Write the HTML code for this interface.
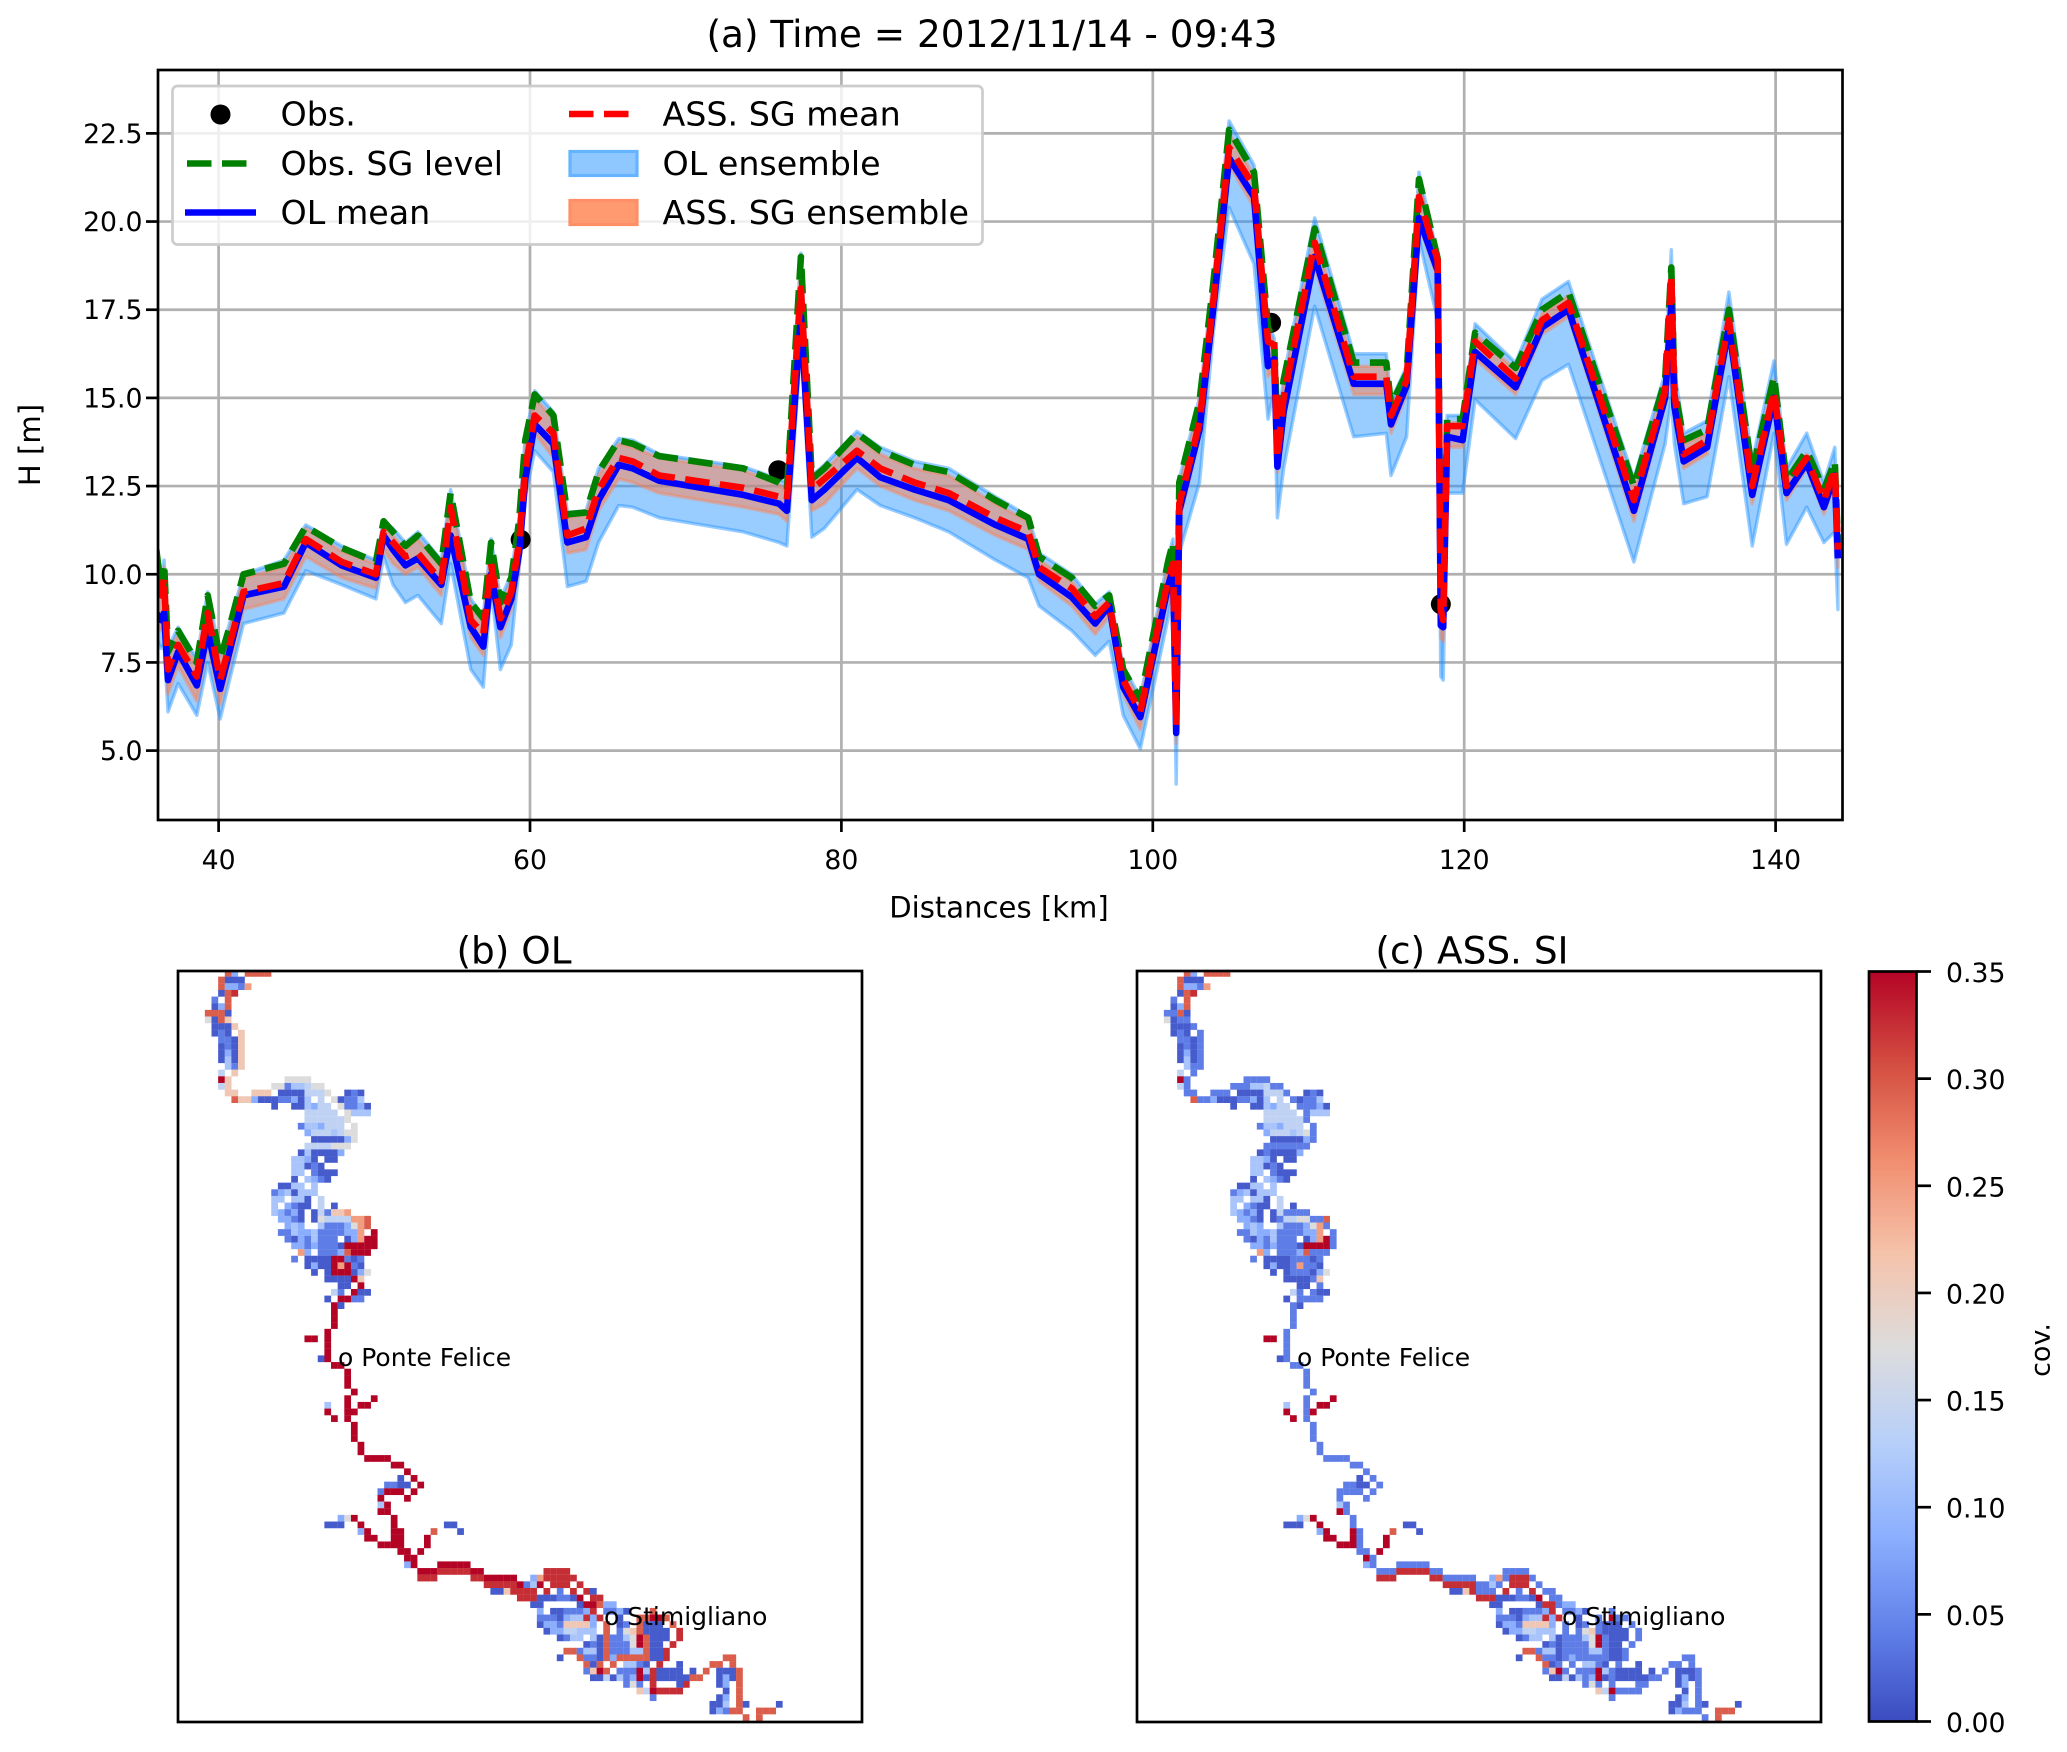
<!DOCTYPE html>
<html lang="en">
<head>
<meta charset="utf-8">
<title>Water level and covariance maps</title>
<style>
html,body{margin:0;padding:0;background:#fff;}
svg{display:block;}
text{font-family:"DejaVu Sans","Liberation Sans",sans-serif;fill:#000;}
</style>
</head>
<body>
<svg id="fig" xmlns="http://www.w3.org/2000/svg" width="2067" height="1752" viewBox="0 0 2067 1752">
  <defs>
    <clipPath id="main-clip"><rect x="158" y="70" width="1684.5" height="750"/></clipPath>
    <clipPath id="b-clip"><rect x="178" y="971" width="684" height="751"/></clipPath>
    <clipPath id="c-clip"><rect x="1137" y="971" width="684" height="751"/></clipPath>
    <linearGradient id="cbar-grad" x1="0" y1="1" x2="0" y2="0"></linearGradient>
  </defs>
  <text x="992" y="47" font-size="37.4" text-anchor="middle">(a) Time = 2012/11/14 - 09:43</text>
  <g id="main-grid"></g>
  <g id="main-series" clip-path="url(#main-clip)"></g>
  <rect x="158" y="70" width="1684.5" height="750" fill="none" stroke="#000" stroke-width="2.7"/>
  <g id="main-ticks"></g>
  <text x="999" y="917.5" font-size="29.1" text-anchor="middle">Distances [km]</text>
  <text transform="translate(40,445) rotate(-90)" font-size="29.1" text-anchor="middle">H [m]</text>

  <g>
    <rect x="172.5" y="86" width="810" height="158.5" rx="5" fill="#fff" fill-opacity="0.8" stroke="#ccc" stroke-width="2.7"/>
    <circle cx="220.5" cy="114.5" r="10" fill="#000"/>
    <text x="280.5" y="125.5" font-size="33.3">Obs.</text>
    <line x1="187" y1="163.5" x2="256" y2="163.5" stroke="#008000" stroke-width="6.6" stroke-dasharray="24.5 10.5"/>
    <text x="280.5" y="175" font-size="33.3">Obs. SG level</text>
    <line x1="185" y1="212.5" x2="256" y2="212.5" stroke="#0000ff" stroke-width="6.6"/>
    <text x="280.5" y="224" font-size="33.3">OL mean</text>
    <line x1="569" y1="114" x2="638" y2="114" stroke="#ff0000" stroke-width="6.6" stroke-dasharray="24.5 10.5"/>
    <text x="662.5" y="125.5" font-size="33.3">ASS. SG mean</text>
    <rect x="570" y="151.5" width="67" height="24" fill="#8fc8ff" stroke="#66b3ff" stroke-width="3.2"/>
    <text x="662.5" y="175" font-size="33.3">OL ensemble</text>
    <rect x="570" y="200.5" width="67" height="24" fill="#ff9a70" stroke="#ff8f66" stroke-width="3.2"/>
    <text x="662.5" y="224" font-size="33.3">ASS. SG ensemble</text>
  </g>

  <text x="514" y="963.5" font-size="37.4" text-anchor="middle">(b) OL</text>
  <text x="1472" y="963.5" font-size="37.4" text-anchor="middle">(c) ASS. SI</text>
  <g id="map-b" clip-path="url(#b-clip)"></g>
  <g id="map-c" clip-path="url(#c-clip)"></g>
  <rect x="178" y="971" width="684" height="751" fill="none" stroke="#000" stroke-width="2.7"/>
  <rect x="1137" y="971" width="684" height="751" fill="none" stroke="#000" stroke-width="2.7"/>
  <text x="338" y="1366" font-size="25">o Ponte Felice</text>
  <text x="604" y="1625" font-size="25">o Stimigliano</text>
  <text x="1297" y="1366" font-size="25">o Ponte Felice</text>
  <text x="1562" y="1625" font-size="25">o Stimigliano</text>

  <rect x="1869" y="971.5" width="47.5" height="750" fill="url(#cbar-grad)"/>
  <rect x="1869" y="971.5" width="47.5" height="750" fill="none" stroke="#000" stroke-width="2.7"/>
  <g id="cbar-ticks"></g>
  <text transform="translate(2042,1350) rotate(-90)" font-size="27" text-anchor="middle" dominant-baseline="middle">cov.</text>
</svg>
<script>
// ---- line chart data ----
const distances = [36.0,36.3,36.5,36.75,37.4,38.6,39.3,40.1,40.7,41.6,44.2,45.6,47.9,50.1,50.6,51.2,52,52.8,54.3,54.9,56.2,57,57.5,58.1,58.8,59.3,59.7,60.3,61.5,62.4,63.6,64.4,65.7,66.6,68.3,73.7,76,76.5,77.4,78.1,78.9,81,82.5,84.7,86.9,89.9,92,92.7,94.8,96.3,97.2,98.1,99.2,101,101.3,101.5,101.7,103,103.9,104.9,106.5,107.4,107.8,108,108.4,110.4,112.9,115,115.3,116.3,117.1,118.3,118.5,118.65,118.9,119.9,120.7,123.3,125,126.7,130.9,132.9,133.3,133.5,134.1,135.6,137,138.5,139.9,140.7,142,143.1,143.8,144];
const olMean = [8.9,8.7,8.9,7.0,7.8,6.85,8.4,6.75,7.8,9.4,9.65,10.9,10.25,9.9,11.1,10.7,10.25,10.45,9.7,11.1,8.5,7.95,10,8.5,9.3,10.6,12.7,14.25,13.7,10.9,11.05,12.1,13.1,13,12.65,12.25,12,11.8,17.3,12.1,12.4,13.3,12.75,12.4,12.1,11.4,11,10,9.35,8.6,9.1,6.8,5.95,9.7,10.15,5.5,11.8,14.1,17.6,21.8,20.7,15.9,16.1,13.05,14.6,19,15.4,15.4,14.25,15.35,20.1,18.6,8.55,8.5,13.9,13.8,16.3,15.3,17,17.5,11.8,15,17.6,14.75,13.2,13.6,17,12.25,15,12.3,13.15,11.9,12.8,10.45];
const assMean = [9.6,9.4,9.9,7.3,8.0,7.1,8.9,7.0,8.0,9.5,9.75,11.0,10.35,10.0,11.2,10.9,10.5,10.6,9.8,11.9,8.7,8.3,10.3,8.75,9.5,10.9,13,14.5,14.0,11.1,11.3,12.4,13.3,13.2,12.8,12.45,12.2,12.1,18.1,12.4,12.7,13.5,13.0,12.6,12.3,11.6,11.2,10.2,9.6,8.8,9.2,7.0,6.1,9.9,10.3,5.7,12.0,14.3,17.8,22.1,21,16.6,16.5,13.3,15,19.4,15.6,15.6,14.5,15.5,20.7,18.9,9.0,8.7,14.2,14.2,16.6,15.55,17.2,17.7,12.1,15.2,18.5,15.1,13.4,13.8,17.2,12.5,15.2,12.5,13.3,12.1,13.0,10.7];
const sgLevel = [10.7,9.6,10.3,7.8,8.4,7.5,9.4,7.6,8.5,10.0,10.3,11.35,10.75,10.35,11.5,11.2,10.8,11.1,10.3,12.3,9.2,8.75,10.9,9.2,9.9,11.5,13.8,15.1,14.5,11.7,11.75,12.9,13.8,13.7,13.35,13.0,12.6,12.4,19.0,12.7,13.0,14.0,13.5,13.1,12.9,12.1,11.6,10.5,9.9,9.1,9.4,7.3,6.45,10.4,10.9,6.0,12.6,14.9,18.3,22.6,21.4,17.0,16.6,14.0,15.5,19.8,16,16,14.8,15.7,21.2,18.95,9.2,9.2,14.4,14.4,16.85,15.85,17.5,18.0,12.5,15.5,18.7,15.3,13.8,14.1,17.5,12.9,15.6,12.65,13.5,12.4,13.2,10.9];
const olEnsLow = [8.2,7.9,8.0,6.1,6.9,6.0,7.5,5.9,7.0,8.6,8.9,10.1,9.7,9.3,10.5,9.7,9.2,9.4,8.6,10.3,7.3,6.8,9.6,7.3,8.0,10.2,12.2,13.5,12.9,9.65,9.8,10.9,11.95,11.9,11.6,11.2,10.9,10.8,16.5,11.05,11.3,12.4,11.95,11.6,11.2,10.4,9.9,9.1,8.4,7.7,8.1,6.0,5.05,8.8,9.7,4.05,10.6,12.6,16.9,20.4,18.8,14.4,15.2,11.6,13.0,17.6,13.9,14,12.8,13.9,19.5,17.2,7.1,7.0,12.3,12.3,14.95,13.85,15.5,15.95,10.35,13.7,15.0,13.7,12.0,12.2,15.6,10.8,14.0,10.85,11.9,10.9,11.2,9.0];
const olEnsHigh = [10.8,9.8,10.4,7.9,8.5,7.6,9.5,7.7,8.6,10.0,10.4,11.4,10.8,10.4,11.5,11.3,10.9,11.2,10.4,12.4,9.3,8.8,11.0,9.3,10.0,11.6,13.9,15.2,14.6,11.75,11.8,13.0,13.85,13.8,13.4,13.05,12.7,12.6,19.1,12.8,13.1,14.05,13.6,13.2,13.0,12.2,11.65,10.6,10.0,9.15,9.5,7.4,6.5,10.5,11.0,5.8,12.7,15,18.4,22.85,21.6,17.1,16.7,14.1,15.6,20.1,16.25,16.25,14.9,15.9,21.4,19.0,9.3,9.3,14.5,14.5,17.1,16.0,17.8,18.3,12.7,15.7,19.2,15.8,14.0,14.35,18.0,13.2,16.05,13.0,14.0,12.6,13.6,11.2];
const assEnsLow = [8.6,8.4,8.5,6.6,7.4,6.4,8.0,6.3,7.4,9.0,9.3,10.5,9.9,9.6,10.7,10.3,10.0,10.2,9.4,11.0,8.2,7.7,10.0,8.2,9.0,10.2,12.4,14.0,13.3,10.6,10.7,11.8,12.7,12.6,12.3,11.9,11.7,11.5,16.9,11.8,12.0,13.0,12.5,12.1,11.8,11.1,10.7,9.8,9.1,8.3,8.8,6.6,5.6,9.4,9.9,5.2,11.5,13.9,17.3,21.6,20.4,15.6,15.8,12.9,14.4,18.7,15.1,15.1,14.0,15.1,19.9,18.4,8.2,8.1,13.6,13.6,16.1,15.1,16.8,17.3,11.5,14.8,17.3,14.5,13.0,13.4,16.7,12.0,14.8,12.1,13.0,11.7,12.6,10.2];
const assEnsHigh = [10.5,9.5,10.2,7.7,8.3,7.4,9.3,7.5,8.4,9.9,10.2,11.3,10.65,10.3,11.4,11.1,10.7,11.0,10.2,12.2,9.1,8.7,10.8,9.1,9.8,11.4,13.7,15.0,14.4,11.6,11.7,12.8,13.7,13.6,13.3,12.95,12.55,12.3,18.9,12.6,12.9,13.9,13.4,13.0,12.8,12.0,11.5,10.4,9.8,9.0,9.3,7.2,6.4,10.3,10.8,5.9,12.5,14.8,18.2,22.5,21.3,16.9,16.5,13.9,15.4,19.6,15.9,15.9,14.7,15.6,21.1,18.9,9.0,9.0,14.3,14.3,16.8,15.8,17.4,17.9,12.4,15.4,18.6,15.2,13.7,14.0,17.6,12.8,15.5,12.6,13.4,12.3,13.1,10.8];
const obsDistances = [59.4,75.95,107.6,118.5];
const obsValues = [10.98,12.95,17.13,9.15];
const xTickValues = [40,60,80,100,120,140];
const yTickValues = [5,7.5,10,12.5,15,17.5,20,22.5];
const yTickLabels = ["5.0","7.5","10.0","12.5","15.0","17.5","20.0","22.5"];

// ---- heatmap data: each row lists "startColumn:codes" spans, each code is a covariance class ----
const covCodes = {a:0.012,b:0.04,c:0.085,d:0.115,e:0.14,f:0.175,g:0.21,h:0.25,i:0.295,j:0.325,k:0.35};
const olRows = [
"7:ic 10:iiii","6:iaaa","6:iccbh","6:aij","5:b 7:i","5:aci","4:iiia","4:faig","5:aaag","5:aba 9:g",
"6:bbag","6:abag","6:acag","6:adag","7:dbg","6:e 8:g","6:kg 16:ffff","6:eg 14:ffbddeff","7:gg 11:ggg 15:aaaaeeef 25:aba","8:iggcaaabbcad 21:e 23:fabbd",
"14:a 17:aadcee 24:fbbca","19:eeeee 25:fddd","19:eeeeeef","18:bddceee 26:f","19:ceeedeff","20:aaaaacf","19:eeeefff","18:adaaaac","17:ddca 22:aa","17:ddaba",
"17:dd 20:baaa","17:a 19:dcba","15:aadd 20:d","14:bcdaddd","14:dd 17:dda 21:e","14:d 16:cbaa 21:e 23:a","14:dcbca 20:aebggh","15:ccba 20:afeeeehhi","16:cdc 21:dbbbcfhi","15:bbdccdbbbbcch 29:k",
"16:bacbdbbb 25:achkk","17:ccbcbbbakkkkk","18:hc 21:bbbcikkk","17:b 19:aaaakkbab","19:acaakhkba","20:a 22:akkkacf","22:aaaakg","24:aa 27:k","23:eb 26:kaa","22:a 24:kkbb",
"23:ka","23:k","23:k","23:k","22:k","19:kk 22:k","22:k","22:k","21:ak","23:kk",
"25:k","25:k","25:k","26:k","25:k 29:k","22:d 25:k 27:kk","22:k 25:kk","23:k 25:k","26:k","26:k",
"26:k","27:k","27:k","28:kkkk","32:kk","34:k","33:a 35:k","31:bbaa 36:k","30:bkkk 35:k","30:k 34:k",
"30:dk","30:kk","24:cfk 32:k","22:aaa 27:k 32:k 40:aa","27:ck 32:kk 38:i 42:a","28:kk 32:kk 37:k","30:kkkk 37:k","33:kk 36:k","34:kk","34:ck 39:kkkkk",
"36:kkkjjjjjkk 55:jjjj","36:jjj 44:jjkkkkk 53:chjjjjj","46:jjjjjkbdk 56:jjj 60:j","47:aagjjjj 55:j 57:b 59:j 61:ja","51:jjjaaabbak 62:jj","53:aa 60:akkicc","54:c 56:aabbbcj 64:bbca 71:i","54:bbbacddjcj 66:a 69:iikki","54:accbggggc 64:i 66:ab 69:iaaa 74:i","55:acceeddd 64:i 66:bfgiaaaa 75:j",
"57:abdd 62:daibbdfkiaaa 75:j","61:abaibbbfkiaa 74:j","58:iibddaibbbddiaaj","57:a 60:ibbaiciiiiiaaj 82:ii","61:iai 65:i 67:ddba 72:j 75:a 80:ii 83:i","61:bgki 66:bbbkdjaaaa 77:a 79:i 81:aaai","62:aaeadbckajaaaaaii 81:acai","67:bfb 71:j 75:aj 81:ac 84:i","69:gekjjjj 82:a 84:i","71:b 81:ac 84:i",
"80:aad 84:ia 90:a","80:acbii 87:iii","85:i 87:i"
];
const assRows = [
"7:ic 10:iiii","6:iaaa","6:iccbh","6:aij","5:b 7:i","5:aci","4:bbia","4:fabb","5:aaab","5:aba 9:b",
"6:bbab","6:abab","6:acab","6:adab","7:dbb","6:e 8:b","6:kb 16:bbbb","6:eb 14:bbbddebb","7:bb 11:bbb 15:aaaaeeeb 25:aba","8:ibbcaaabbcad 21:e 23:babbd",
"14:a 17:aadcee 24:bbbca","19:eeeee 25:bddd","19:eeeeeeb","18:bddceee 26:b","19:ceeedefb","20:aaaaacb","19:bbbbbbb","18:abaaaac","17:ddca 22:aa","17:ddaba",
"17:dd 20:baaa","17:a 19:dcba","15:aadd 20:d","14:bcdaddd","14:dd 17:dda 21:e","14:d 16:cbaa 21:e 23:a","14:dcbca 20:aebbbb","15:ccba 20:abeeffbbi","16:cdc 21:dbbbcfhb","15:bbdccdbbbbcch 29:b",
"16:bacbdbbb 25:achkb","17:ccbcbbbakkkkb","18:hc 21:bbbcibbb","17:b 19:aaaabbbab","19:acaabhbba","20:a 22:abbbacf","22:aaaabg","24:aa 27:b","23:eb 26:baa","22:a 24:bbbb",
"23:ba","23:b","23:b","23:b","22:b","19:kk 22:b","22:b","22:b","21:ab","23:bb",
"25:b","25:b","25:b","26:b","25:b 29:k","22:d 25:b 27:kk","22:k 25:bk","23:k 25:b","26:b","26:b",
"26:b","27:b","27:b","28:bbbb","32:bb","34:b","33:a 35:b","31:bbaa 36:b","30:bbbb 35:b","30:b 34:b",
"30:db","30:kb","24:cfk 32:b","22:aaa 27:k 32:b 40:aa","27:ck 32:kb 38:i 42:a","28:kk 32:kb 37:k","30:kkkb 37:k","33:bb 36:k","34:kb","34:cb 39:bbbbb",
"36:bbbjjjjjbb 55:bbbb","36:jjj 44:jjbbbbb 53:chbjjjb","46:jjjjjbbdb 56:jjj 60:b","47:aagjbbb 55:j 57:b 59:j 61:bb","51:jjjaaabbak 62:bb","53:aa 60:ajjbcc","54:c 56:aabbbcj 64:bbca 71:b","54:bbbacddjcj 66:a 69:b 71:kbb","54:accbggggc 64:b 66:ab 69:baaa 74:b","55:acceeddd 64:b 66:bfgbaaaa 75:b",
"57:abdd 62:dabbbdfkbaaa 75:b","61:ababbbbfkbaa 74:b","58:iibddabbbbddbaab","57:a 60:ibbabcbbbbbaab 82:bb","61:iab 65:b 67:ddba 72:b 75:a 80:bb 83:b","61:bgkb 66:bbbkdbaaaa 77:a 79:b 81:aaab","62:aaeadbckabaaaaabb 81:acab","67:bfb 71:b 75:bb 81:ac 84:b","69:gekbbbb 82:a 84:b","71:b 81:ac 84:b",
"80:aad 84:ba 90:a","80:acbbb 87:iii","85:b 87:i"
];
const cbarTickValues = [0,0.05,0.1,0.15,0.2,0.25,0.3,0.35];
const cbarTickLabels = ["0.00","0.05","0.10","0.15","0.20","0.25","0.30","0.35"];
const coolwarmStops = ["#3b4cc0","#6282ea","#8db0fe","#b8d0f9","#dddcdc","#f5c2aa","#f18d6f","#d44e41","#b40426"];

// ---- axis functions ----
const xMain = km => 218.6 + (km - 40) * 15.57;
const yMain = v => 750.6 - (v - 5) * 35.27;
const cellW = 6.64, cellH = 6.645;
const covMax = 0.35;
const yCbar = c => 1721.5 - (c / covMax) * 750;

const SVGNS = "http://www.w3.org/2000/svg";
function mk(tag, attrs, parent) {
  const el = document.createElementNS(SVGNS, tag);
  for (const k in attrs) el.setAttribute(k, attrs[k]);
  parent.appendChild(el);
  return el;
}
function hex2rgb(h) { return [1,3,5].map(i => parseInt(h.substr(i,2),16)); }
function coolwarm(c) {
  const t = Math.max(0, Math.min(1, c / covMax)) * (coolwarmStops.length - 1);
  const i = Math.min(Math.floor(t), coolwarmStops.length - 2);
  const a = hex2rgb(coolwarmStops[i]), b = hex2rgb(coolwarmStops[i+1]), f = t - i;
  return "rgb(" + a.map((v,j) => Math.round(v + (b[j]-v)*f)).join(",") + ")";
}
function linePath(xs, ys) {
  return xs.map((x,i) => (i ? "L" : "M") + xMain(x).toFixed(1) + " " + yMain(ys[i]).toFixed(1)).join("");
}
function bandPath(xs, lo, hi) {
  let d = linePath(xs, hi);
  for (let i = xs.length - 1; i >= 0; i--) d += "L" + xMain(xs[i]).toFixed(1) + " " + yMain(lo[i]).toFixed(1);
  return d + "Z";
}

// ---- grid and ticks ----
const grid = document.getElementById("main-grid");
const ticks = document.getElementById("main-ticks");
xTickValues.forEach(function (t) {
  const x = xMain(t);
  const g = mk("line", {x1:x, x2:x, y1:70, y2:820, stroke:"#b0b0b0", "stroke-width":2.7}, grid);
  
  
  const m = mk("line", {x1:x, x2:x, y1:820, y2:832, stroke:"#000", "stroke-width":2.7}, ticks);
  
  
  const l = mk("text", {x:x, y:869, "font-size":26.7, "text-anchor":"middle"}, ticks);
  l.textContent = String(t);
  
  
});
yTickValues.forEach(function (t, i) {
  const y = yMain(t);
  const g = mk("line", {x1:158, x2:1842.5, y1:y, y2:y, stroke:"#b0b0b0", "stroke-width":2.7}, grid);
  
  
  const m = mk("line", {x1:146, x2:158, y1:y, y2:y, stroke:"#000", "stroke-width":2.7}, ticks);
  
  
  const l = mk("text", {x:142.5, y:y + 9.5, "font-size":26.7, "text-anchor":"end"}, ticks);
  l.textContent = yTickLabels[i];
  
  
});

// ---- series ----
const series = document.getElementById("main-series");
const olBand = mk("path", {d:bandPath(distances, olEnsLow, olEnsHigh), fill:"#1e90ff", "fill-opacity":0.45, stroke:"#1e90ff", "stroke-opacity":0.45, "stroke-width":3.5, "stroke-linejoin":"round"}, series);


const assBand = mk("path", {d:bandPath(distances, assEnsLow, assEnsHigh), fill:"#ff7f50", "fill-opacity":0.5, stroke:"#ff7f50", "stroke-opacity":0.4, "stroke-width":3.5, "stroke-linejoin":"round"}, series);


obsDistances.forEach(function (km, i) {
  const c = mk("circle", {cx:xMain(km), cy:yMain(obsValues[i]), r:10, fill:"#000"}, series);
  
  
});
const sgLine = mk("path", {d:linePath(distances, sgLevel), fill:"none", stroke:"#008000", "stroke-width":6.6, "stroke-dasharray":"24.5 10.5", "stroke-linejoin":"round"}, series);


const olLine = mk("path", {d:linePath(distances, olMean), fill:"none", stroke:"#0000ff", "stroke-width":6.6, "stroke-linejoin":"round"}, series);


const assLine = mk("path", {d:linePath(distances, assMean), fill:"none", stroke:"#ff0000", "stroke-width":6.6, "stroke-dasharray":"24.5 10.5", "stroke-linejoin":"round"}, series);



// ---- heatmaps ----
function drawMap(rows, groupId, originX) {
  const group = document.getElementById(groupId);
  rows.forEach(function (row, r) {
    row.split(" ").forEach(function (span) {
      const parts = span.split(":");
      const start = parseInt(parts[0], 10);
      parts[1].split("").forEach(function (code, k) {
        const cell = mk("rect", {
          x: (originX + (start + k) * cellW).toFixed(2),
          y: (970 + r * cellH).toFixed(2),
          width: cellW + 0.1,
          height: cellH + 0.1,
          fill: coolwarm(covCodes[code])
        }, group);
        
        
      });
    });
  });
}
drawMap(olRows, "map-b", 178.3);
drawMap(assRows, "map-c", 1137.3);

// ---- colorbar ----
const grad = document.getElementById("cbar-grad");
coolwarmStops.forEach(function (col, i) {
  mk("stop", {offset: i / (coolwarmStops.length - 1), "stop-color": col}, grad);
});
const cbarTicks = document.getElementById("cbar-ticks");
cbarTickValues.forEach(function (t, i) {
  const y = yCbar(t);
  const m = mk("line", {x1:1916.5, x2:1931, y1:y, y2:y, stroke:"#000", "stroke-width":2.7}, cbarTicks);
  
  
  const l = mk("text", {x:1946, y:y + 10.5, "font-size":26.7}, cbarTicks);
  l.textContent = cbarTickLabels[i];
  
  
});
</script>
</body>
</html>
